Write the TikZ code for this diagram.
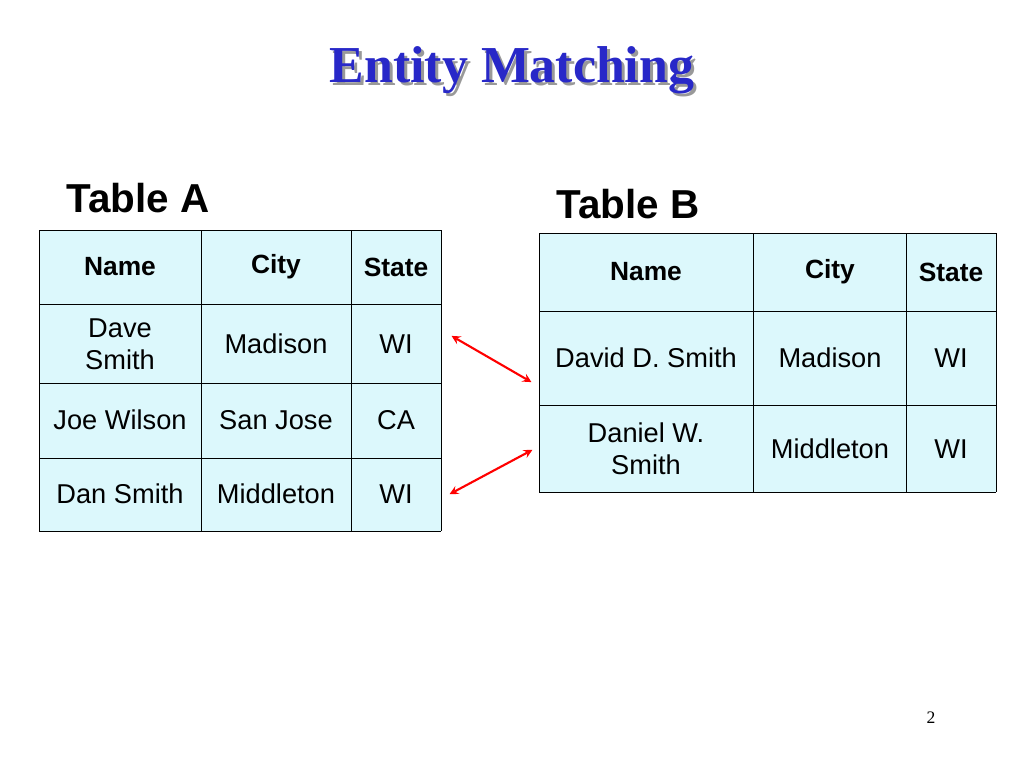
\documentclass[tikz,border=0pt]{standalone}
\usepackage{fontspec}
\setmainfont{Liberation Sans}
\newfontfamily\titlefont{Liberation Serif}
\usetikzlibrary{positioning}

\definecolor{cellfill}{RGB}{220,248,252}
\definecolor{titleblue}{RGB}{40,40,200}

\begin{document}
\begin{tikzpicture}[
        x=0.02cm, y=-0.02cm,
        cell/.style={font=\fontsize{15.5}{18}\selectfont, align=center},
        headcell/.style={font=\bfseries\fontsize{15}{17}\selectfont},
        tablelabel/.style={font=\bfseries\fontsize{23}{25}\selectfont},
        match/.style={red, very thick, <->, >=stealth, shorten >=1pt, shorten <=1pt}
    ]
    \useasboundingbox (0,0) rectangle (1024,768);

    % Title
    \node[font=\titlefont\bfseries\fontsize{29.5}{32}\selectfont, text=black!40] at (515,73) {Entity Matching};
    \node[font=\titlefont\bfseries\fontsize{29.5}{32}\selectfont, text=titleblue] (title) at (512,70) {Entity Matching};

    % Table A
    \node[tablelabel] (Alabel) at (138,198) {Table A};
    \fill[cellfill] (39,230) rectangle (441,531);
    \foreach \x in {39,201,351,441} \draw (\x,230) -- (\x,531);
    \foreach \y in {230,304,383,458,531} \draw (39,\y) -- (441,\y);
    \node[headcell] (Aname) at (120,267) {Name};
    \node[headcell] (Acity) at (276,267) {City};
    \node[headcell] (Astate) at (396,267) {State};
    \node[cell] (A1n) at (120,344) {Dave\\Smith};
    \node[cell] (A1c) at (276,344) {Madison};
    \node[cell] (A1s) at (396,344) {WI};
    \node[cell] (A2n) at (120,420) {Joe Wilson};
    \node[cell] (A2c) at (276,420) {San Jose};
    \node[cell] (A2s) at (396,420) {CA};
    \node[cell] (A3n) at (120,494) {Dan Smith};
    \node[cell] (A3c) at (276,494) {Middleton};
    \node[cell] (A3s) at (396,494) {WI};

    % Table B
    \node[tablelabel] (Blabel) at (628,204) {Table B};
    \fill[cellfill] (539,233) rectangle (996,492);
    \foreach \x in {539,753,906,996} \draw (\x,233) -- (\x,492);
    \foreach \y in {233,311,405,492} \draw (539,\y) -- (996,\y);
    \node[headcell] (Bname) at (646,272) {Name};
    \node[headcell] (Bcity) at (830,272) {City};
    \node[headcell] (Bstate) at (951,272) {State};
    \node[cell] (B1n) at (646,358) {David D. Smith};
    \node[cell] (B1c) at (830,358) {Madison};
    \node[cell] (B1s) at (951,358) {WI};
    \node[cell] (B2n) at (646,449) {Daniel W.\\Smith};
    \node[cell] (B2c) at (830,449) {Middleton};
    \node[cell] (B2s) at (951,449) {WI};

    % Matches
    \coordinate (mA1) at (450,335);
    \coordinate (mB1) at (533,383);
    \coordinate (mA3) at (448,495);
    \coordinate (mB2) at (534,449);
    \draw[match] (mA1) -- (mB1);
    \draw[match] (mA3) -- (mB2);

    % Page number
    \node[font=\titlefont\fontsize{10}{12}\selectfont] (page) at (931,718) {2};
\end{tikzpicture}
\end{document}
